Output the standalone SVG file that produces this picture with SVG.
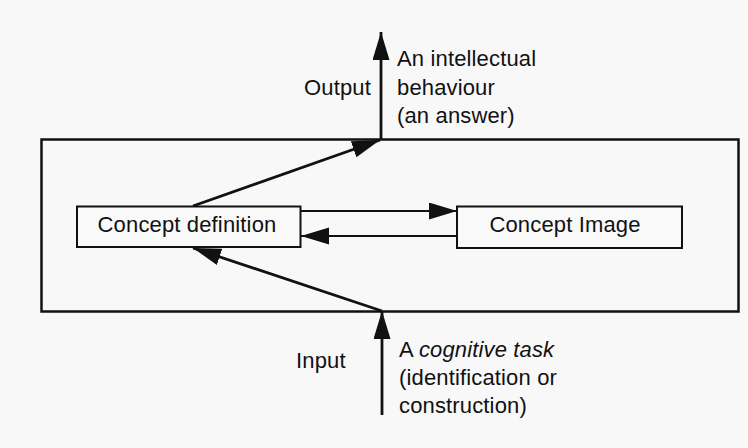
<svg xmlns="http://www.w3.org/2000/svg" width="748" height="448" viewBox="0 0 748 448">
  <style>
    .bg { fill: #f8f8f8; }
    .frame { fill: none; stroke: #111; stroke-width: 2.5; }
    .box { fill: #f9f9f9; stroke: #111; stroke-width: 2; }
    .conn { fill: none; stroke: #111; stroke-width: 2.8; }
    .thin { fill: none; stroke: #111; stroke-width: 2.2; }
    text { font-family: "Liberation Sans", Arial, Helvetica, sans-serif; font-size: 22px; letter-spacing: 0.15px; fill: #111; }
    .mid { text-anchor: middle; }
    .it { font-style: italic; }
  </style>
  <defs>
    <marker id="head" markerUnits="userSpaceOnUse" markerWidth="30" markerHeight="18" refX="28" refY="8.5" orient="auto">
      <path d="M0,0 L28,8.5 L0,17 Z" fill="#111"/>
    </marker>
  </defs>

  <rect class="bg" x="0" y="0" width="748" height="448"/>

  <!-- enclosing frame of the cognitive structure -->
  <rect id="frame" class="frame" x="41.5" y="139.5" width="697" height="172"/>

  <g id="connectors">
    <!-- output -->
    <line class="conn" x1="193" y1="206" x2="380" y2="140" marker-end="url(#head)"/>
    <line class="conn" x1="381" y1="139" x2="381" y2="32" marker-end="url(#head)"/>
    <!-- definition <-> image -->
    <line class="thin" x1="301" y1="211" x2="457" y2="211" marker-end="url(#head)"/>
    <line class="thin" x1="457" y1="236" x2="301" y2="236" marker-end="url(#head)"/>
    <!-- input -->
    <line class="conn" x1="382" y1="415" x2="382" y2="311" marker-end="url(#head)"/>
    <line class="conn" x1="382" y1="311" x2="193" y2="248" marker-end="url(#head)"/>
  </g>

  <g id="concept-definition">
    <rect class="box" x="77" y="206.5" width="223.5" height="40.5"/>
    <text class="mid" x="187" y="232">Concept definition</text>
  </g>

  <g id="concept-image">
    <rect class="box" x="457" y="206.5" width="225" height="41.5"/>
    <text class="mid" x="565" y="232">Concept Image</text>
  </g>

  <g id="output-label">
    <text x="304" y="95">Output</text>
  </g>

  <g id="output-text">
    <text x="397" y="66">An intellectual</text>
    <text x="397" y="95">behaviour</text>
    <text x="397" y="123">(an answer)</text>
  </g>

  <g id="input-label">
    <text x="296" y="368">Input</text>
  </g>

  <g id="input-text">
    <text x="399" y="357">A <tspan class="it">cognitive task</tspan></text>
    <text x="399" y="385">(identification or</text>
    <text x="399" y="413">construction)</text>
  </g>
</svg>
